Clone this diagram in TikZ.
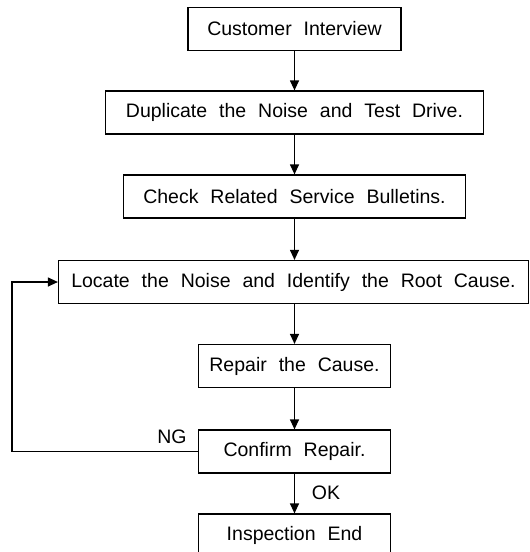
\documentclass[tikz,border=0pt]{standalone}
\usepackage{fontspec}
\setmainfont[WordSpace=2.2]{Liberation Sans}
\usetikzlibrary{arrows.meta}

\tikzset{
  procbox/.style={rectangle, draw, line width=1.2pt, minimum height=43pt, inner sep=0pt, font=\fontsize{19.5}{23}\selectfont},
  flow/.style={-{Triangle[length=10pt,width=9pt]}, line width=1.2pt},
  tag/.style={font=\fontsize{19.5}{23}\selectfont}
}

\begin{document}
\begin{tikzpicture}[x=1pt, y=-1pt]
    \useasboundingbox (0,0) rectangle (530,552);

    % Steps of the check
    \node[procbox, minimum width=213pt] (cust) at (294.5, 29) {Customer Interview};
    \node[procbox, minimum width=378pt] (dup) at (294.5, 112.5) {Duplicate the Noise and Test Drive.};
    \node[procbox, minimum width=342pt] (check) at (294.5, 196.5) {Check Related Service Bulletins.};
    \node[procbox, minimum width=470pt] (locate) at (293.5, 282) {Locate the Noise and Identify the Root Cause.};
    \node[procbox, minimum width=192pt] (repair) at (294.5, 366) {Repair the Cause.};
    \node[procbox, minimum width=192pt] (confirm) at (294.5, 451.5) {Confirm Repair.};
    \node[procbox, minimum width=192pt] (endbox) at (294.5, 535.5) {Inspection End};

    % Labels
    \node[tag] (ng) at (172, 437) {NG};
    \node[tag] (ok) at (326, 493) {OK};

    % Connections
    \coordinate (loop) at (12, 451.5);
    \draw[flow] (cust) -- (dup);
    \draw[flow] (dup) -- (check);
    \draw[flow] (check) -- (locate.north -| check.south);
    \draw[flow] (locate.south -| repair.north) -- (repair);
    \draw[flow] (repair) -- (confirm);
    \draw[flow] (confirm) -- (endbox);
    \draw[flow] (confirm.west) -- (loop) |- (locate.west);
\end{tikzpicture}
\end{document}
